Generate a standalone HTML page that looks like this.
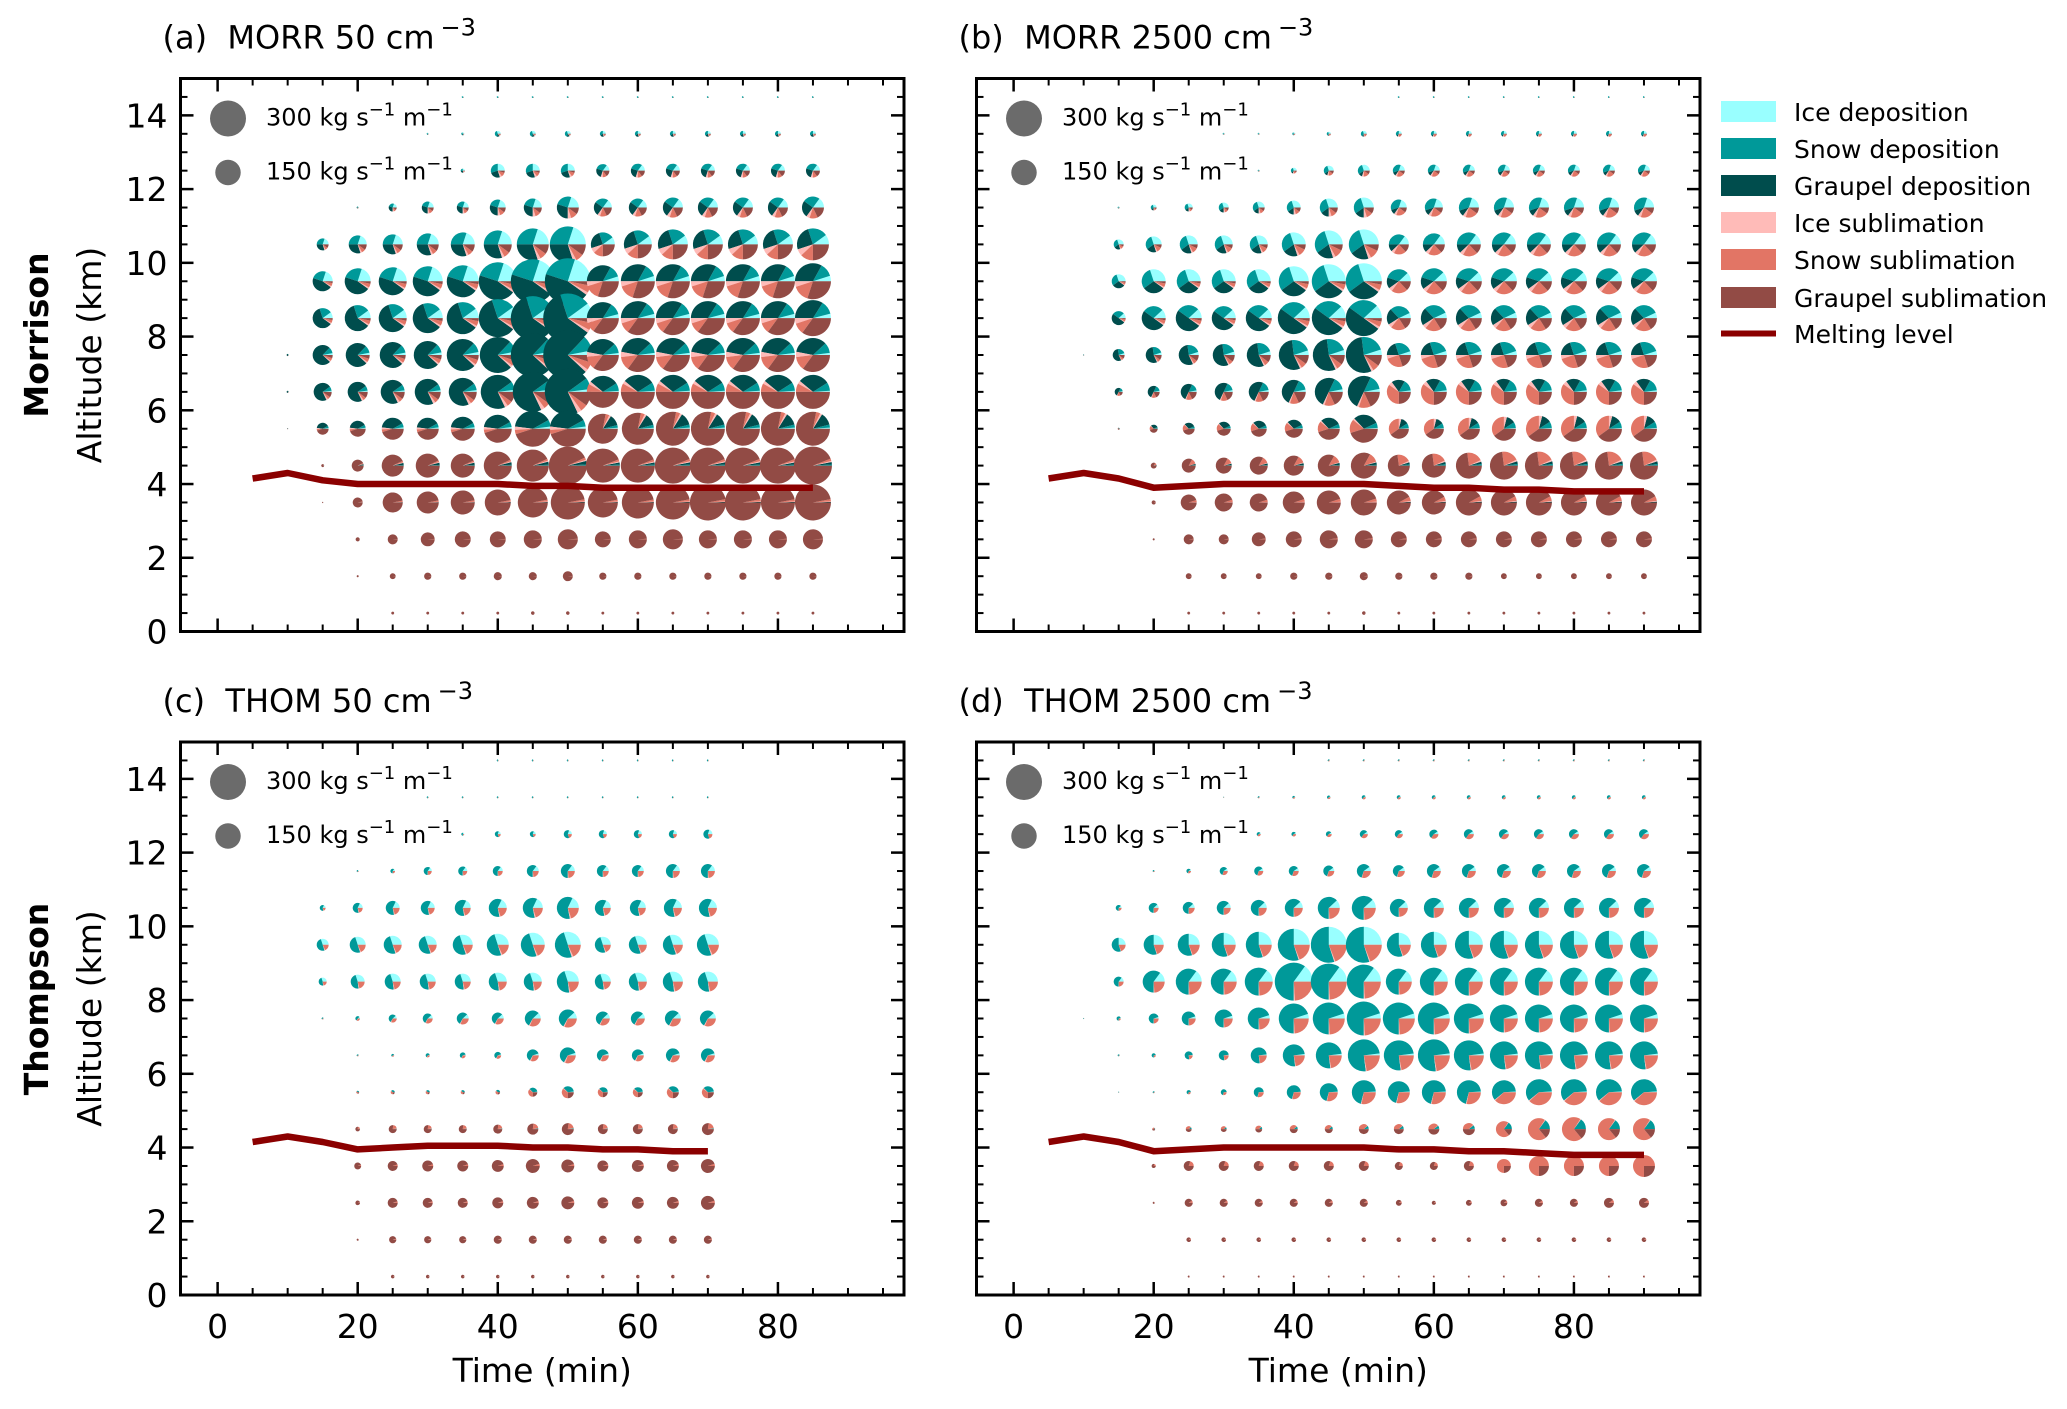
<!DOCTYPE html>
<html><head><meta charset="utf-8"><style>
html,body{margin:0;padding:0;background:#fff;}
svg{display:block;font-family:"DejaVu Sans","Liberation Sans",sans-serif;}
</style></head><body>
<svg id="fig" width="2067" height="1409" viewBox="0 0 2067 1409" xmlns="http://www.w3.org/2000/svg">
<rect width="2067" height="1409" fill="#fff"/>
<g id="legend">
 <rect x="1721" y="101" width="55" height="21" fill="#99ffff"/>
 <text x="1794" y="121" font-size="25">Ice deposition</text>
 <rect x="1721" y="138" width="55" height="21" fill="#009999"/>
 <text x="1794" y="158" font-size="25">Snow deposition</text>
 <rect x="1721" y="175" width="55" height="21" fill="#004d4d"/>
 <text x="1794" y="195" font-size="25">Graupel deposition</text>
 <rect x="1721" y="212" width="55" height="21" fill="#ffbbb8"/>
 <text x="1794" y="232" font-size="25">Ice sublimation</text>
 <rect x="1721" y="249" width="55" height="21" fill="#e27565"/>
 <text x="1794" y="269" font-size="25">Snow sublimation</text>
 <rect x="1721" y="287" width="55" height="21" fill="#924b45"/>
 <text x="1794" y="307" font-size="25">Graupel sublimation</text>
 <line x1="1721" y1="333.5" x2="1776" y2="333.5" stroke="#8b0000" stroke-width="6"/>
 <text x="1794" y="343" font-size="25">Melting level</text>
</g>
<text transform="translate(48,335) rotate(-90)" text-anchor="middle" font-size="33" font-weight="bold">Morrison</text>
<text transform="translate(48,999) rotate(-90)" text-anchor="middle" font-size="33" font-weight="bold">Thompson</text>
</svg>
<script>
// ---- data (rows from 14.5 km down to 0.5 km; columns start at t = 5 min, step 5) ----
const altitudes = [14.5,13.5,12.5,11.5,10.5,9.5,8.5,7.5,6.5,5.5,4.5,3.5,2.5,1.5,0.5];
const categories = ["Ice deposition","Snow deposition","Graupel deposition","Ice sublimation","Snow sublimation","Graupel sublimation"];
const colors = ["#99ffff","#009999","#004d4d","#ffbbb8","#e27565","#924b45"];
const xTicks = [0,20,40,60,80];
const yTicks = [0,2,4,6,8,10,12,14];
const sizeLegendValues = [300,150];

const aTotals = [
[0,0,0,0,0,0,1,1,1,1,1,1,1,1,1,1,1],
[0,0,0,0,0,1,2,8,8,8,8,8,8,8,8,8,8],
[0,0,0,0,0,0,4,45,45,45,40,45,45,45,45,45,45],
[0,0,0,1,15,33,33,59,75,112,75,75,93,93,93,93,112],
[0,0,33,75,93,112,133,181,237,300,133,181,208,208,208,208,237],
[0,0,93,156,181,208,237,334,448,490,237,268,268,268,268,268,300],
[0,0,93,156,181,208,237,334,448,560,237,268,268,268,268,268,300],
[0,1,93,133,156,181,237,300,448,560,237,268,268,268,268,268,268],
[0,1,75,93,133,156,181,268,370,490,237,268,268,268,268,268,268],
[0,0.3,33,59,112,112,133,181,300,300,208,237,268,268,268,268,268],
[0,0,2,33,112,133,133,181,237,334,268,268,300,300,300,300,334],
[0,0,0.3,23,93,112,133,156,208,268,208,237,268,300,300,268,300],
[0,0,0,4,23,45,59,59,75,93,59,75,93,75,75,75,93],
[0,0,0,1,8,12,12,15,15,23,12,12,12,12,12,12,12],
[0,0,0,0,2,2,2,2,3,3,2,2,2,2,2,2,2]];
const bTotals = [
[0,0,0,0,0,0,0,0,0,0,1,1,1,1,1,1,1,1],
[0,0,0,0,0,1,1,2,4,8,8,8,8,8,8,8,8,8],
[0,0,0,0,0,0,1,8,23,33,33,33,33,33,33,33,33,33],
[0,0,1,8,15,23,33,45,75,93,59,75,93,93,93,93,93,93],
[0,0,23,59,75,75,75,133,181,208,93,112,133,133,133,133,133,133],
[0,0,45,133,133,133,133,208,268,300,133,156,156,156,156,156,156,156],
[0,0,45,133,156,133,156,237,268,300,133,156,156,156,156,156,156,156],
[0,0.3,33,59,93,112,133,208,237,300,133,156,156,156,156,156,156,156],
[0,0,15,33,59,75,93,133,181,237,133,156,156,156,156,156,156,156],
[0,0,1,15,33,45,59,75,112,181,93,93,112,133,156,156,156,156],
[0,0,0,8,45,59,75,93,112,156,112,133,156,181,181,181,181,181],
[0,0,0,4,59,75,75,112,133,156,133,133,156,156,156,156,156,156],
[0,0,0,1,23,23,45,59,75,75,59,59,59,59,59,59,59,59],
[0,0,0,0,8,8,8,12,12,15,12,12,12,8,8,8,8,8],
[0,0,0,0,2,2,2,2,2,3,2,2,2,2,2,2,2,2]];
const cTotals = [
[0,0,0,0,0,0,0,1,1,1,1,1,1,1],
[0,0,0,0,0,1,1,1,1,1,1,1,1,1],
[0,0,0,0,0,0,2,8,8,15,15,15,15,19],
[0,0,0,1,5,15,19,23,33,45,33,33,45,45],
[0,0,8,23,45,45,59,75,93,112,59,59,75,75],
[0,0,33,59,75,75,93,112,133,156,59,75,93,112],
[0,0,15,45,59,59,59,75,75,112,59,75,93,93],
[0,0,1,5,15,23,33,33,59,75,45,45,59,59],
[0,0,0,1,2,4,8,11,33,59,33,33,45,45],
[0,0,0,2,4,4,4,5,19,33,23,23,33,33],
[0,0,0,5,15,15,15,19,28,33,23,23,23,33],
[0,0,0,11,23,28,28,33,45,39,28,33,33,45],
[0,0,0,5,23,23,23,28,33,39,28,33,33,45],
[0,0,0,1,12,12,12,15,15,15,15,15,15,15],
[0,0,0,0,3,3,3,3,3,3,3,3,3,3]];
const dTotals = [
[0,0,0,0,0,0,0,0,1,1,1,1,1,1,1,1,1,1],
[0,0,0,0,0,0.3,1,2,3,4,4,4,4,4,4,4,4,4],
[0,0,0,0,0,0,4,5,8,15,15,19,23,23,23,23,23,23],
[0,0,0,1,5,15,19,23,28,45,33,45,45,45,45,45,45,45],
[0,0,8,23,33,45,59,75,112,133,75,93,93,93,93,93,93,93],
[0,0,45,93,112,133,156,237,300,300,133,156,181,181,181,181,181,181],
[0,0,23,112,156,156,181,334,300,268,156,181,181,181,181,181,181,181],
[0,0.3,4,23,45,75,112,208,237,268,237,237,208,181,181,181,181,181],
[0,0,1,4,15,23,59,112,156,237,208,237,208,181,181,181,181,181],
[0,0,0.3,1,4,8,23,45,75,133,112,133,133,133,156,156,156,156],
[0,0,0,2,8,8,11,15,15,23,23,28,33,59,112,133,112,112],
[0,0,0,4,23,23,23,23,23,23,15,15,23,45,93,93,93,112],
[0,0,0,1,15,15,15,15,15,15,8,4,8,11,15,15,23,23],
[0,0,0,0,5,5,5,5,5,5,5,5,5,5,5,5,5,5],
[0,0,0,0,1,1,1,1,1,1,1,1,1,1,1,1,1,1]];

// fractions: ice dep, snow dep, graupel dep, ice sub, snow sub, graupel sub
const aCompEarly = [
[0.3,0.5,0.1,0,0.1,0],[0.3,0.4,0.15,0.03,0.08,0.04],[0.25,0.3,0.25,0.05,0.1,0.05],
[0.2,0.25,0.3,0.05,0.1,0.1],[0.2,0.3,0.3,0.03,0.07,0.1],[0.2,0.25,0.45,0.02,0.05,0.03],
[0.1,0.2,0.6,0.02,0.05,0.03],[0.03,0.1,0.75,0.02,0.05,0.05],[0.02,0.08,0.72,0.03,0.05,0.1],
[0.02,0.06,0.4,0.03,0.04,0.45],[0,0.01,0.03,0.01,0.02,0.93],[0,0,0.005,0.005,0.02,0.97],
[0,0,0,0,0.01,0.99],[0,0,0,0,0.01,0.99],[0,0,0,0,0.01,0.99]];
const aCompLate = [
[0.3,0.5,0.1,0,0.1,0],[0.25,0.35,0.2,0.05,0.1,0.05],[0.15,0.3,0.25,0.05,0.1,0.15],
[0.15,0.25,0.25,0.05,0.12,0.18],[0.1,0.2,0.25,0.07,0.13,0.25],[0.05,0.12,0.33,0.05,0.15,0.3],
[0.04,0.12,0.34,0.05,0.1,0.35],[0.02,0.1,0.35,0.05,0.13,0.35],[0.01,0.08,0.3,0.03,0.08,0.5],
[0.01,0.03,0.12,0.02,0.04,0.78],[0,0.01,0.02,0.01,0.02,0.94],[0,0,0.005,0.005,0.02,0.97],
[0,0,0,0,0.01,0.99],[0,0,0,0,0.01,0.99],[0,0,0,0,0.01,0.99]];
const bCompEarly = [
[0.3,0.5,0.05,0,0.15,0],[0.3,0.35,0.1,0.05,0.15,0.05],[0.3,0.3,0.1,0.05,0.15,0.1],
[0.3,0.3,0.15,0.05,0.1,0.1],[0.3,0.3,0.2,0.03,0.1,0.07],[0.3,0.3,0.3,0.02,0.05,0.03],
[0.12,0.28,0.5,0.02,0.05,0.03],[0.05,0.22,0.55,0.02,0.06,0.1],[0.03,0.15,0.5,0.02,0.12,0.18],
[0.01,0.06,0.3,0.02,0.16,0.45],[0,0.01,0.03,0.01,0.12,0.83],[0,0,0,0.01,0.04,0.95],
[0,0,0,0,0.02,0.98],[0,0,0,0,0.02,0.98],[0,0,0,0,0.02,0.98]];
const bCompLate = [
[0.3,0.5,0.05,0,0.15,0],[0.25,0.35,0.1,0.05,0.2,0.05],[0.2,0.35,0.1,0.05,0.2,0.1],
[0.2,0.35,0.1,0.05,0.2,0.1],[0.15,0.35,0.12,0.05,0.2,0.13],[0.12,0.33,0.15,0.05,0.22,0.13],
[0.07,0.3,0.22,0.05,0.2,0.16],[0.05,0.25,0.2,0.05,0.25,0.2],[0.02,0.15,0.18,0.05,0.35,0.25],
[0.01,0.08,0.12,0.04,0.35,0.4],[0,0.02,0.03,0.02,0.2,0.73],[0,0,0.01,0.01,0.06,0.92],
[0,0,0,0,0.02,0.98],[0,0,0,0,0.02,0.98],[0,0,0,0,0.02,0.98]];
const cComp = [
[0.2,0.6,0,0,0.2,0],[0.2,0.6,0,0,0.2,0],[0.2,0.6,0,0,0.2,0],
[0.15,0.6,0,0.02,0.23,0],[0.18,0.6,0,0.02,0.2,0],[0.3,0.5,0,0.02,0.18,0],
[0.3,0.47,0,0.02,0.21,0],[0.12,0.55,0,0.02,0.31,0],[0.05,0.62,0,0.03,0.3,0],
[0.02,0.35,0.01,0.02,0.35,0.25],[0,0.02,0,0.01,0.2,0.77],[0,0,0,0,0.05,0.95],
[0,0,0,0,0.05,0.95],[0,0,0,0,0.05,0.95],[0,0,0,0,0.05,0.95]];
const dCompEarly = [
[0.1,0.55,0,0,0.35,0],[0.1,0.55,0,0,0.35,0],[0.1,0.55,0,0,0.35,0],
[0.1,0.6,0,0.01,0.29,0],[0.12,0.63,0,0.01,0.24,0],[0.25,0.55,0,0.01,0.19,0],
[0.15,0.6,0,0.01,0.24,0],[0.05,0.7,0,0.01,0.24,0],[0.02,0.75,0,0.01,0.22,0],
[0.01,0.7,0,0.01,0.28,0],[0.01,0.1,0,0.01,0.38,0.5],[0,0,0,0,0.2,0.8],
[0,0,0,0,0.1,0.9],[0,0,0,0,0.1,0.9],[0,0,0,0,0.1,0.9]];
const dCompLate = [
[0.1,0.55,0,0,0.35,0],[0.1,0.55,0,0,0.35,0],[0.1,0.55,0,0,0.35,0],
[0.1,0.6,0,0.01,0.29,0],[0.12,0.63,0,0.01,0.24,0],[0.25,0.55,0,0.01,0.19,0],
[0.15,0.6,0,0.01,0.24,0],[0.05,0.7,0,0.01,0.24,0],[0.02,0.75,0,0.01,0.22,0],
[0.01,0.6,0,0.01,0.38,0],[0,0.15,0,0.01,0.7,0.14],[0,0,0,0,0.75,0.25],
[0,0,0,0,0.1,0.9],[0,0,0,0,0.1,0.9],[0,0,0,0,0.1,0.9]];

const aMelt = [4.15,4.3,4.1,4.0,4.0,4.0,4.0,4.0,3.95,3.95,3.9,3.9,3.9,3.9,3.9,3.9,3.9];
const bMelt = [4.15,4.3,4.15,3.9,3.95,4.0,4.0,4.0,4.0,4.0,3.95,3.9,3.9,3.85,3.85,3.8,3.8,3.8];
const cMelt = [4.15,4.3,4.15,3.95,4.0,4.05,4.05,4.05,4.0,4.0,3.95,3.95,3.9,3.9];
const dMelt = [4.15,4.3,4.15,3.9,3.95,4.0,4.0,4.0,4.0,4.0,3.95,3.95,3.9,3.9,3.85,3.8,3.8,3.8];

// ---- drawing ----
const NS = "http://www.w3.org/2000/svg";
const svg = document.getElementById('fig');
function mk(tag, attrs, parent){
  const e = document.createElementNS(NS, tag);
  for (const k in attrs) e.setAttribute(k, attrs[k]);
  (parent||svg).appendChild(e);
  return e;
}
const PW = 723.5, PH = 553, XMIN = -5.3, XMAX = 98, YMIN = 0, YMAX = 15;
const R300 = 18;
function rOf(v){ return R300*Math.sqrt(v/300); }

const panels = [
 {id:'a', left:180.5, top:78.5, title:'(a)\u00A0 MORR 50 cm', totals:aTotals, early:aCompEarly, late:aCompLate, cut:50, melt:aMelt, ylab:true, xlab:false},
 {id:'b', left:976.5, top:78.5, title:'(b)\u00A0 MORR 2500 cm', totals:bTotals, early:bCompEarly, late:bCompLate, cut:50, melt:bMelt, ylab:false, xlab:false},
 {id:'c', left:180.5, top:742, title:'(c)\u00A0 THOM 50 cm', totals:cTotals, early:cComp, late:cComp, cut:100, melt:cMelt, ylab:true, xlab:true},
 {id:'d', left:976.5, top:742, title:'(d)\u00A0 THOM 2500 cm', totals:dTotals, early:dCompEarly, late:dCompLate, cut:65, melt:dMelt, ylab:false, xlab:true}
];

panels.forEach(p => {
  const X = t => p.left + (t - XMIN)/(XMAX - XMIN)*PW;
  const Y = z => p.top + PH - (z - YMIN)/(YMAX - YMIN)*PH;
  const g = mk('g', {});
  
  

  // title
  const tt = mk('text', {x: p.left - 18, y: p.top - 30, 'font-size': 32}, g);
  
  
  tt.textContent = p.title;
  const sup = mk('tspan', {dx: 6, dy: -13, 'font-size': 24}, tt);
  sup.textContent = '\u22123';

  // pies
  const pg = mk('g', {}, g);
  
  
  p.totals.forEach((row, ri) => {
    row.forEach((v, ci) => {
      if (!(v > 0)) return;
      const t = 5 + 5*ci;
      const z = altitudes[ri];
      const comp = (t <= p.cut ? p.early : p.late)[ri];
      const sum = comp.reduce((s,c)=>s+c,0);
      const cx = X(t), cy = Y(z), r = rOf(v);
      const pie = mk('g', {}, pg);
      
      
      let a0 = 0;
      comp.forEach((f, k) => {
        if (f <= 0) return;
        const a1 = a0 + f/sum*2*Math.PI;
        let el;
        if (f/sum > 0.9999) {
          el = mk('circle', {cx, cy, r, fill: colors[k]}, pie);
        } else {
          const x0 = cx + r*Math.cos(a0), y0 = cy - r*Math.sin(a0);
          const x1 = cx + r*Math.cos(a1), y1 = cy - r*Math.sin(a1);
          const large = (a1 - a0) > Math.PI ? 1 : 0;
          el = mk('path', {d: `M${cx},${cy}L${x0},${y0}A${r},${r} 0 ${large} 0 ${x1},${y1}Z`, fill: colors[k]}, pie);
        }
        
        
        a0 = a1;
      });
    });
  });

  // melting level
  const pts = p.melt.map((m, i) => X(5 + 5*i).toFixed(1) + ',' + Y(m).toFixed(1)).join(' ');
  const ml = mk('polyline', {points: pts, fill: 'none', stroke: '#8b0000', 'stroke-width': 6.5, 'stroke-linejoin': 'round'}, g);
  
  

  // size legend
  sizeLegendValues.forEach((v, i) => {
    const cy = p.top + 40 + i*54;
    const c = mk('circle', {cx: p.left + 47.5, cy, r: rOf(v), fill: '#6b6b6b'}, g);
    
    
    const tx = mk('text', {x: p.left + 85.5, y: cy + 7, 'font-size': 24}, g);
    
    
    tx.textContent = v + ' kg s';
    const s1 = mk('tspan', {dy: -10, 'font-size': 18}, tx);
    s1.textContent = '\u22121';
    const m = mk('tspan', {dy: 10, 'font-size': 24}, tx);
    m.textContent = ' m';
    const s2 = mk('tspan', {dy: -10, 'font-size': 18}, tx);
    s2.textContent = '\u22121';
  });

  // ticks
  const tg = mk('g', {stroke: '#000'}, g);
  
  
  for (let t = 0; t <= 95; t += 5) {
    const major = t % 20 === 0, L = major ? 13 : 7, w = major ? 2.5 : 2;
    const x = X(t);
    mk('line', {x1: x, y1: p.top + PH, x2: x, y2: p.top + PH - L, 'stroke-width': w}, tg);
    mk('line', {x1: x, y1: p.top, x2: x, y2: p.top + L, 'stroke-width': w}, tg);
  }
  for (let z = 0; z <= 15; z += 0.5) {
    const major = Math.abs(z % 2) < 1e-9, L = major ? 13 : 7, w = major ? 2.5 : 2;
    const y = Y(z);
    mk('line', {x1: p.left, y1: y, x2: p.left + L, y2: y, 'stroke-width': w}, tg);
    mk('line', {x1: p.left + PW, y1: y, x2: p.left + PW - L, y2: y, 'stroke-width': w}, tg);
  }
  if (p.ylab) {
    yTicks.forEach(z => {
      const e = mk('text', {x: p.left - 13, y: Y(z) + 12, 'font-size': 33, 'text-anchor': 'end'}, g);
      
      
      e.textContent = z;
    });
    const al = mk('text', {transform: `translate(101,${p.top + PH/2}) rotate(-90)`, 'font-size': 33, 'text-anchor': 'middle'}, g);
    
    
    al.textContent = 'Altitude (km)';
  }
  if (p.xlab) {
    xTicks.forEach(t => {
      const e = mk('text', {x: X(t), y: p.top + PH + 43, 'font-size': 33, 'text-anchor': 'middle'}, g);
      
      
      e.textContent = t;
    });
    const xl = mk('text', {x: p.left + PW/2, y: p.top + PH + 87, 'font-size': 33, 'text-anchor': 'middle'}, g);
    
    
    xl.textContent = 'Time (min)';
  }
  // frame
  const fr = mk('rect', {x: p.left, y: p.top, width: PW, height: PH, fill: 'none', stroke: '#000', 'stroke-width': 3}, g);
  
  
});
</script>
</body></html>
